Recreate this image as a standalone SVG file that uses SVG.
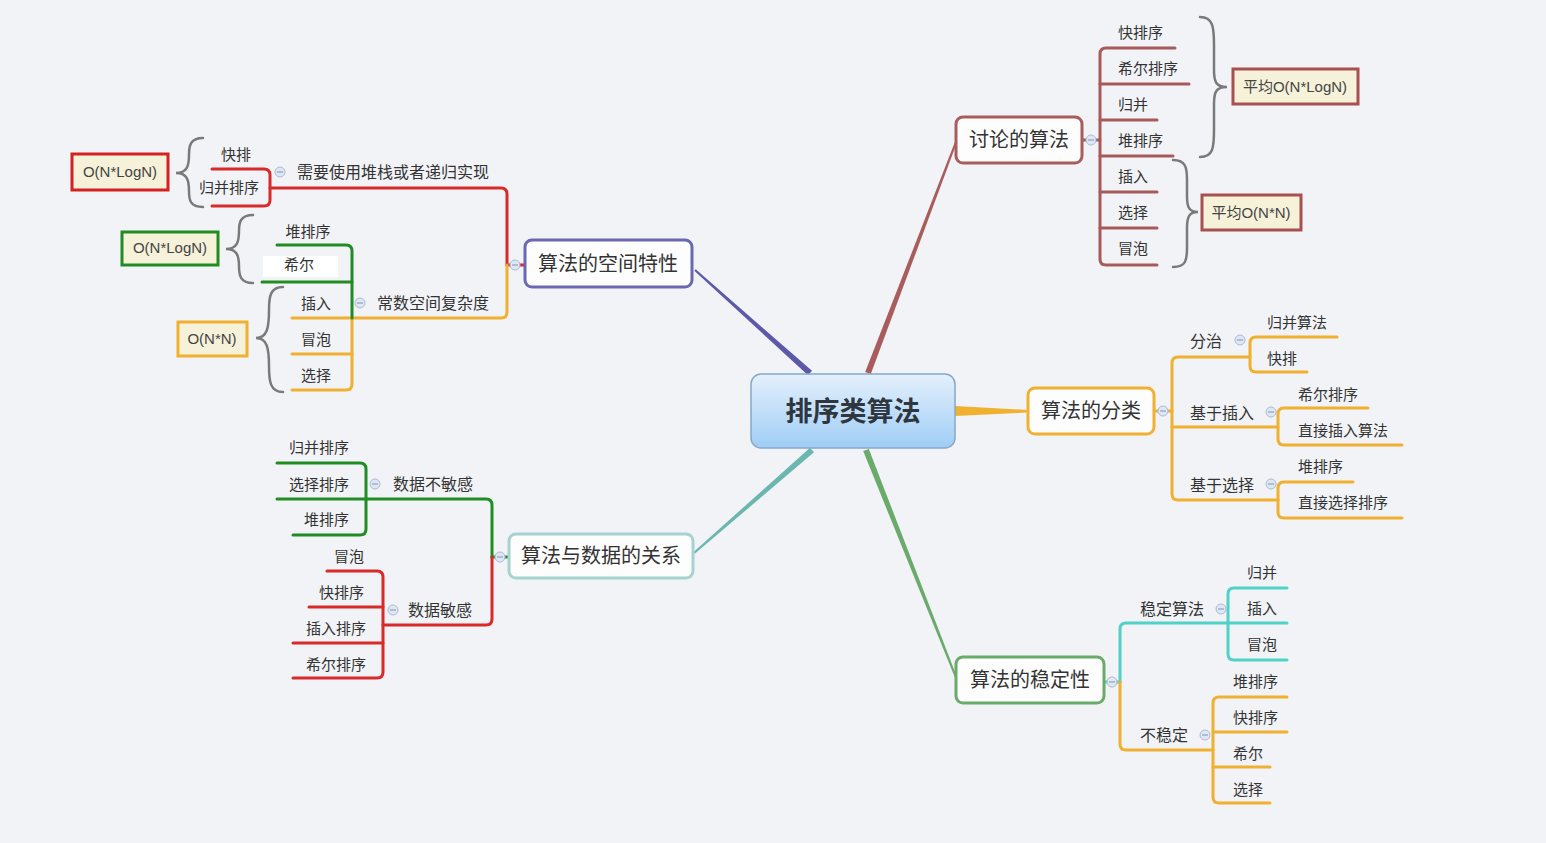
<svg xmlns="http://www.w3.org/2000/svg" width="1546" height="843" viewBox="0 0 1546 843">
<defs>
<linearGradient id="cg" x1="0" y1="0" x2="0" y2="1">
<stop offset="0" stop-color="#e4f0fc"/>
<stop offset="1" stop-color="#9fcdf5"/>
</linearGradient>
<style>
text{font-family:"Noto Sans CJK SC","Liberation Sans",sans-serif;fill:#333;dominant-baseline:central}
.leaf{font-size:15px}
.mid{font-size:16px}
.main{font-size:20px;text-anchor:middle}
.box{font-family:"Liberation Sans","Noto Sans CJK SC",sans-serif;font-size:15px;text-anchor:middle;fill:#444}
.ln{fill:none;stroke-width:3;stroke-linecap:round;stroke-linejoin:round}
.brace{fill:none;stroke:#7a7a7a;stroke-width:2.5;stroke-linecap:round}
.node{fill:#fdfdfd;stroke-width:3}
.nb{fill:#f6f2da;stroke-width:3}
.col{fill:#dfe7f3;stroke:#a9bbd6;stroke-width:1}
.colm{stroke:#8ea3c4;stroke-width:1.2}
</style>
</defs>
<rect width="1546" height="843" fill="#f2f3f7"/>

<g id="connectors">
<polygon points="812,370.8 695.7,269.3 694.3,270.7 808,375.2" fill="#5c5aa8"/>
<polygon points="870.8,374.1 956.9,142.4 955.1,141.6 865.2,371.9" fill="#a85c5c"/>
<polygon points="955,406 1028,410 1028,412.5 955,416" fill="#f0b030"/>
<polygon points="868.8,448.9 957.9,679.6 956.1,680.4 863.2,451.1" fill="#6aaa6a"/>
<polygon points="814,452.3 694.7,553.8 693.3,552.2 810,447.7" fill="#6cb6b0"/>

<g stroke="#a65a5a" class="ln">
<path d="M1082,140 H1100"/>
<path d="M1175,48 H1106 Q1100,48 1100,54 V259 Q1100,265 1106,265 H1157"/>
<path d="M1100,84 H1189"/>
<path d="M1100,120 H1157"/>
<path d="M1100,156 H1173"/>
<path d="M1100,192 H1157"/>
<path d="M1100,228 H1157"/>
</g>

<g stroke="#f0b030" class="ln">
<path d="M1154,411 H1172"/>
<path d="M1250,357 H1178 Q1172,357 1172,363 V494 Q1172,500 1178,500 H1278"/>
<path d="M1172,427 H1278"/>
<path d="M1337,337 H1256 Q1250,337 1250,343 V366 Q1250,372 1256,372 H1307"/>
<path d="M1368,408 H1284 Q1278,408 1278,414 V439 Q1278,445 1284,445 H1402"/>
<path d="M1353,482 H1284 Q1278,482 1278,488 V512 Q1278,518 1284,518 H1402"/>
</g>

<g stroke="#50d2c6" class="ln">
<path d="M1104,682 H1120"/>
<path d="M1228,623 H1126 Q1120,623 1120,629 V682"/>
<path d="M1287,588 H1234 Q1228,588 1228,594 V654 Q1228,660 1234,660 H1287"/>
<path d="M1228,623 H1287"/>
</g>
<g stroke="#f0b030" class="ln">
<path d="M1120,682 V744 Q1120,750 1126,750 H1213"/>
<path d="M1287,697 H1219 Q1213,697 1213,703 V797 Q1213,803 1219,803 H1270"/>
<path d="M1213,732 H1287"/>
<path d="M1213,767 H1270"/>
</g>

<g stroke="#d82a2a" class="ln">
<path d="M525,265 H507"/>
<path d="M270,188 H501 Q507,188 507,194 V265"/>
<path d="M212,169 H264 Q270,169 270,175 V200 Q270,206 264,206 H212"/>
</g>
<g stroke="#f0b030" class="ln">
<path d="M507,265 V312 Q507,318 501,318 H292"/>
<path d="M352,318 V384 Q352,390 346,390 H292"/>
<path d="M292,354 H352"/>
</g>
<g stroke="#1f8c24" class="ln">
<path d="M277,245 H346 Q352,245 352,251 V318"/>
<path d="M262,282 H352"/>
</g>

<g stroke="#1f8c24" class="ln">
<path d="M509,557 H492"/>
<path d="M277,499 H486 Q492,499 492,505 V557"/>
<path d="M277,463 H360 Q366,463 366,469 V529 Q366,535 360,535 H293"/>
</g>
<g stroke="#d82a2a" class="ln">
<path d="M492,557 V619 Q492,625 486,625 H383"/>
<path d="M327,571 H377 Q383,571 383,577 V672 Q383,678 377,678 H293"/>
<path d="M309,607 H383"/>
<path d="M293,643 H383"/>
</g>

<path class="brace" d="M203,138 C190,138 189,146 189,155 C189,166 187,173 176,173 C187,173 189,180 189,191 C189,200 190,207 203,207"/>
<path class="brace" d="M253,215 C240,215 239,223 239,231 C239,242 237,249 226,249 C237,249 239,256 239,266 C239,275 240,283 253,283"/>
<path class="brace" d="M283,287 C270,287 269,297 269,310 C269,328 267,338 256,338 C267,338 269,348 269,366 C269,381 270,392 283,392"/>
<path class="brace" d="M1200,17 C1213,17 1214,27 1214,45 V70 C1214,82 1216,87 1227,87 C1216,87 1214,92 1214,104 V130 C1214,148 1213,157 1200,157"/>
<path class="brace" d="M1173,160 C1186,160 1187,168 1187,180 V196 C1187,207 1189,212 1198,212 C1189,212 1187,217 1187,228 V248 C1187,260 1186,267 1173,267"/>

<g>
<circle class="col" cx="1091" cy="140" r="5"/><path class="colm" d="M1088,140 H1094"/>
<circle class="col" cx="1163" cy="411" r="5"/><path class="colm" d="M1160,411 H1166"/>
<circle class="col" cx="1112" cy="682" r="5"/><path class="colm" d="M1109,682 H1115"/>
<circle class="col" cx="515" cy="265" r="5"/><path class="colm" d="M512,265 H518"/>
<circle class="col" cx="500" cy="557" r="5"/><path class="colm" d="M497,557 H503"/>
<circle class="col" cx="1240" cy="340" r="5"/><path class="colm" d="M1237,340 H1243"/>
<circle class="col" cx="1271" cy="412" r="5"/><path class="colm" d="M1268,412 H1274"/>
<circle class="col" cx="1271" cy="484" r="5"/><path class="colm" d="M1268,484 H1274"/>
<circle class="col" cx="1221" cy="609" r="5"/><path class="colm" d="M1218,609 H1224"/>
<circle class="col" cx="1205" cy="735" r="5"/><path class="colm" d="M1202,735 H1208"/>
<circle class="col" cx="280" cy="172" r="5"/><path class="colm" d="M277,172 H283"/>
<circle class="col" cx="360" cy="303" r="5"/><path class="colm" d="M357,303 H363"/>
<circle class="col" cx="375" cy="484" r="5"/><path class="colm" d="M372,484 H378"/>
<circle class="col" cx="393" cy="610" r="5"/><path class="colm" d="M390,610 H396"/>
</g>
</g>

<g id="center">
<rect x="751" y="374" width="204" height="74" rx="10" fill="url(#cg)" stroke="#86a8c8" stroke-width="1.5"/>
<text x="853" y="409" style="font-size:27px;font-weight:bold;text-anchor:middle;fill:#2e3640">排序类算法</text>
</g>

<g id="n-space">
<rect class="node" x="525" y="240" width="167" height="47" rx="7" stroke="#6a68b0"/>
<text class="main" x="608" y="262">算法的空间特性</text>
</g>
<g id="n-discuss">
<rect class="node" x="956" y="117" width="126" height="46" rx="7" stroke="#a85c5c"/>
<text class="main" x="1019" y="138">讨论的算法</text>
</g>
<g id="n-class">
<rect class="node" x="1028" y="388" width="126" height="46" rx="7" stroke="#f0b030"/>
<text class="main" x="1091" y="409">算法的分类</text>
</g>
<g id="n-stable">
<rect class="node" x="956" y="657" width="148" height="46" rx="7" stroke="#6aaa6a"/>
<text class="main" x="1030" y="678">算法的稳定性</text>
</g>
<g id="n-data">
<rect class="node" x="509" y="534" width="184" height="44" rx="7" stroke="#a6d2d0"/>
<text class="main" x="601" y="554">算法与数据的关系</text>
</g>

<g id="discuss-children">
<text class="leaf" x="1118" y="31">快排序</text>
<text class="leaf" x="1118" y="67">希尔排序</text>
<text class="leaf" x="1118" y="103">归并</text>
<text class="leaf" x="1118" y="139">堆排序</text>
<text class="leaf" x="1118" y="175">插入</text>
<text class="leaf" x="1118" y="211">选择</text>
<text class="leaf" x="1118" y="247">冒泡</text>
</g>
<g id="box-avg-nlogn">
<rect class="nb" x="1233" y="69" width="125" height="35" stroke="#a85050"/>
<text class="box" x="1295" y="86">平均O(N*LogN)</text>
</g>
<g id="box-avg-nn">
<rect class="nb" x="1202" y="195" width="99" height="35" stroke="#a85050"/>
<text class="box" x="1251" y="212">平均O(N*N)</text>
</g>

<g id="class-children">
<text class="mid" x="1190" y="340">分治</text>
<text class="mid" x="1190" y="412">基于插入</text>
<text class="mid" x="1190" y="484">基于选择</text>
<text class="leaf" x="1267" y="321">归并算法</text>
<text class="leaf" x="1267" y="357">快排</text>
<text class="leaf" x="1298" y="393">希尔排序</text>
<text class="leaf" x="1298" y="429">直接插入算法</text>
<text class="leaf" x="1298" y="465">堆排序</text>
<text class="leaf" x="1298" y="501">直接选择排序</text>
</g>

<g id="stable-children">
<text class="mid" x="1140" y="608">稳定算法</text>
<text class="mid" x="1140" y="734">不稳定</text>
<text class="leaf" x="1247" y="571">归并</text>
<text class="leaf" x="1247" y="607">插入</text>
<text class="leaf" x="1247" y="643">冒泡</text>
<text class="leaf" x="1233" y="680">堆排序</text>
<text class="leaf" x="1233" y="716">快排序</text>
<text class="leaf" x="1233" y="752">希尔</text>
<text class="leaf" x="1233" y="788">选择</text>
</g>

<g id="space-children">
<text class="mid" x="297" y="171" style="font-size:16px">需要使用堆栈或者递归实现</text>
<text class="mid" x="377" y="302" style="font-size:16px">常数空间复杂度</text>
<text class="leaf" x="236" y="153" text-anchor="middle">快排</text>
<text class="leaf" x="229" y="186" text-anchor="middle">归并排序</text>
<text class="leaf" x="308" y="230" text-anchor="middle">堆排序</text>
<rect x="263" y="256" width="75" height="21" fill="#ffffff"/>
<text class="leaf" x="299" y="263" text-anchor="middle">希尔</text>
<text class="leaf" x="316" y="302" text-anchor="middle">插入</text>
<text class="leaf" x="316" y="338" text-anchor="middle">冒泡</text>
<text class="leaf" x="316" y="374" text-anchor="middle">选择</text>
</g>
<g id="box-red">
<rect class="nb" x="72" y="154" width="96" height="36" stroke="#d42020"/>
<text class="box" x="120" y="171">O(N*LogN)</text>
</g>
<g id="box-green">
<rect class="nb" x="122" y="232" width="96" height="33" stroke="#228b22"/>
<text class="box" x="170" y="247">O(N*LogN)</text>
</g>
<g id="box-orange">
<rect class="nb" x="178" y="322" width="69" height="34" stroke="#f0b030"/>
<text class="box" x="212" y="338">O(N*N)</text>
</g>

<g id="data-children">
<text class="mid" x="393" y="483">数据不敏感</text>
<text class="mid" x="408" y="609">数据敏感</text>
<text class="leaf" x="349" y="446" text-anchor="end">归并排序</text>
<text class="leaf" x="349" y="483" text-anchor="end">选择排序</text>
<text class="leaf" x="349" y="518" text-anchor="end">堆排序</text>
<text class="leaf" x="364" y="555" text-anchor="end">冒泡</text>
<text class="leaf" x="364" y="591" text-anchor="end">快排序</text>
<text class="leaf" x="366" y="627" text-anchor="end">插入排序</text>
<text class="leaf" x="366" y="663" text-anchor="end">希尔排序</text>
</g>
</svg>
